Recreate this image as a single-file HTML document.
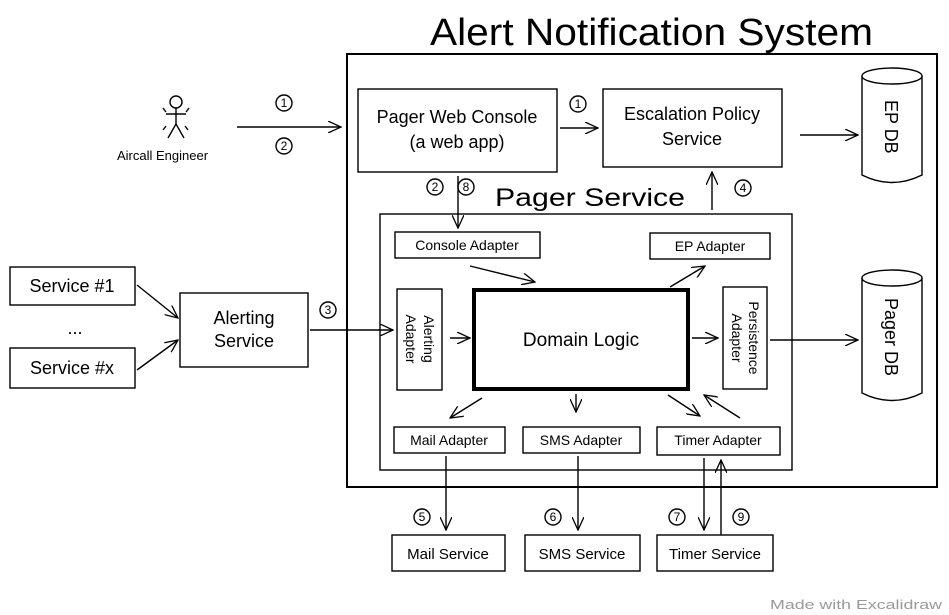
<!DOCTYPE html>
<html><head><meta charset="utf-8"><style>
html,body{margin:0;padding:0;background:#fff;}
svg{display:block;}
text{font-family:"Liberation Sans",sans-serif;fill:#000;}
</style></head><body>
<svg width="949" height="615" viewBox="0 0 949 615" xmlns="http://www.w3.org/2000/svg">
<defs>
<marker id="a" markerWidth="14" markerHeight="12" refX="13" refY="6" orient="auto" markerUnits="userSpaceOnUse">
<path d="M0,0 L13,6 L0,12" fill="none" stroke="#000" stroke-width="1.3"/></marker>
</defs>
<g fill="none" stroke="#000" stroke-width="1.4">
<text x="430" y="45" font-size="38" stroke="none" textLength="443" lengthAdjust="spacingAndGlyphs">Alert Notification System</text>
<rect x="347" y="54" width="590" height="433" stroke-width="2"/>
<rect x="380" y="214" width="412" height="256"/>
<text x="495" y="206" font-size="25" stroke="none" textLength="190" lengthAdjust="spacingAndGlyphs">Pager Service</text>
<rect x="358" y="89" width="199" height="83"/>
<text x="457" y="123" font-size="18" text-anchor="middle" stroke="none">Pager Web Console</text>
<text x="457" y="148" font-size="18" text-anchor="middle" stroke="none">(a web app)</text>
<rect x="603" y="89" width="179" height="78"/>
<text x="692" y="120" font-size="18" text-anchor="middle" stroke="none">Escalation Policy</text>
<text x="692" y="145" font-size="18" text-anchor="middle" stroke="none">Service</text>
<path d="M862,76 L862,175 Q892,190 922,175 L922,76"/><ellipse cx="892" cy="76" rx="30" ry="8"/>
<text font-size="18" stroke="none" transform="translate(885,100) rotate(90)">EP DB</text>
<path d="M862,278 L862,393 Q892,408 922,393 L922,278"/><ellipse cx="892" cy="278" rx="30" ry="8"/>
<text font-size="18" stroke="none" transform="translate(885,298) rotate(90)">Pager DB</text>
<circle cx="176" cy="102" r="6"/>
<path d="M176,108 L176,124 M166,114 L186,114 M176,124 L168,138 M176,124 L184,138 M163,108 L166,112 M189,108 L186,112 M163,130 L166,126 M188,130 L185,126"/>
<text x="117" y="160" font-size="13" stroke="none">Aircall Engineer</text>
<rect x="395" y="232" width="145" height="26"/><text x="467" y="250" font-size="14" text-anchor="middle" stroke="none">Console Adapter</text>
<rect x="650" y="233" width="120" height="26"/><text x="710" y="251" font-size="14" text-anchor="middle" stroke="none">EP Adapter</text>
<rect x="397" y="289" width="45" height="101"/>
<text font-size="14" stroke="none" text-anchor="middle" transform="translate(424,339) rotate(90)">Alerting</text>
<text font-size="14" stroke="none" text-anchor="middle" transform="translate(406,339) rotate(90)">Adapter</text>
<rect x="474" y="290" width="214" height="99" stroke-width="4"/>
<text x="581" y="346" font-size="19" text-anchor="middle" stroke="none">Domain Logic</text>
<rect x="723" y="287" width="44" height="102"/>
<text font-size="14" stroke="none" text-anchor="middle" transform="translate(749,338) rotate(90)">Persistence</text>
<text font-size="14" stroke="none" text-anchor="middle" transform="translate(732,338) rotate(90)">Adapter</text>
<rect x="394" y="427" width="111" height="26"/><text x="449" y="445" font-size="14" text-anchor="middle" stroke="none">Mail Adapter</text>
<rect x="523" y="427" width="117" height="26"/><text x="581" y="445" font-size="14" text-anchor="middle" stroke="none">SMS Adapter</text>
<rect x="657" y="427" width="123" height="28"/><text x="718" y="445" font-size="14" text-anchor="middle" stroke="none">Timer Adapter</text>
<rect x="10" y="267" width="125" height="38"/><text x="72" y="292" font-size="18" text-anchor="middle" stroke="none">Service #1</text>
<text x="75" y="334" font-size="18" text-anchor="middle" stroke="none">...</text>
<rect x="10" y="348" width="125" height="40"/><text x="72" y="374" font-size="18" text-anchor="middle" stroke="none">Service #x</text>
<rect x="180" y="293" width="128" height="74"/>
<text x="244" y="324" font-size="18" text-anchor="middle" stroke="none">Alerting</text>
<text x="244" y="347" font-size="18" text-anchor="middle" stroke="none">Service</text>
<rect x="392" y="535" width="113" height="36"/><text x="448" y="559" font-size="15" text-anchor="middle" stroke="none">Mail Service</text>
<rect x="525" y="535" width="115" height="36"/><text x="582" y="559" font-size="15" text-anchor="middle" stroke="none">SMS Service</text>
<rect x="657" y="535" width="116" height="36"/><text x="715" y="559" font-size="15" text-anchor="middle" stroke="none">Timer Service</text>
<path d="M237,127 L341,127" marker-end="url(#a)"/>
<path d="M560,128 L598,128" marker-end="url(#a)"/>
<path d="M800,135 L858,135" marker-end="url(#a)"/>
<path d="M458,176 L458,228" marker-end="url(#a)"/>
<path d="M712,210 L712,172" marker-end="url(#a)"/>
<path d="M470,266 L535,282" marker-end="url(#a)"/>
<path d="M670,287 L705,266" marker-end="url(#a)"/>
<path d="M137,285 L178,318" marker-end="url(#a)"/>
<path d="M137,370 L178,340" marker-end="url(#a)"/>
<path d="M310,330 L393,330" marker-end="url(#a)"/>
<path d="M450,338 L470,338" marker-end="url(#a)"/>
<path d="M692,338 L718,338" marker-end="url(#a)"/>
<path d="M770,340 L858,340" marker-end="url(#a)"/>
<path d="M482,398 L450,418" marker-end="url(#a)"/>
<path d="M576,394 L576,412" marker-end="url(#a)"/>
<path d="M668,395 L700,416" marker-end="url(#a)"/>
<path d="M740,418 L704,395" marker-end="url(#a)"/>
<path d="M446,456 L446,530" marker-end="url(#a)"/>
<path d="M578,456 L578,530" marker-end="url(#a)"/>
<path d="M704,458 L704,530" marker-end="url(#a)"/>
<path d="M721,535 L721,460" marker-end="url(#a)"/>
<g font-size="12">
<circle cx="284" cy="103" r="8"/><text x="284" y="107" text-anchor="middle" stroke="none">1</text>
<circle cx="284" cy="146" r="8"/><text x="284" y="150" text-anchor="middle" stroke="none">2</text>
<circle cx="578" cy="104" r="8"/><text x="578" y="108" text-anchor="middle" stroke="none">1</text>
<circle cx="435" cy="187" r="8"/><text x="435" y="191" text-anchor="middle" stroke="none">2</text>
<circle cx="466" cy="187" r="8"/><text x="466" y="191" text-anchor="middle" stroke="none">8</text>
<circle cx="743" cy="188" r="8"/><text x="743" y="192" text-anchor="middle" stroke="none">4</text>
<circle cx="328" cy="310" r="8"/><text x="328" y="314" text-anchor="middle" stroke="none">3</text>
<circle cx="422" cy="517" r="8"/><text x="422" y="521" text-anchor="middle" stroke="none">5</text>
<circle cx="553" cy="517" r="8"/><text x="553" y="521" text-anchor="middle" stroke="none">6</text>
<circle cx="677" cy="517" r="8"/><text x="677" y="521" text-anchor="middle" stroke="none">7</text>
<circle cx="741" cy="517" r="8"/><text x="741" y="521" text-anchor="middle" stroke="none">9</text>
</g>
<text x="770" y="609" font-size="13" stroke="none" style="fill:#999" textLength="172" lengthAdjust="spacingAndGlyphs">Made with Excalidraw</text>
</g>
</svg>
</body></html>
